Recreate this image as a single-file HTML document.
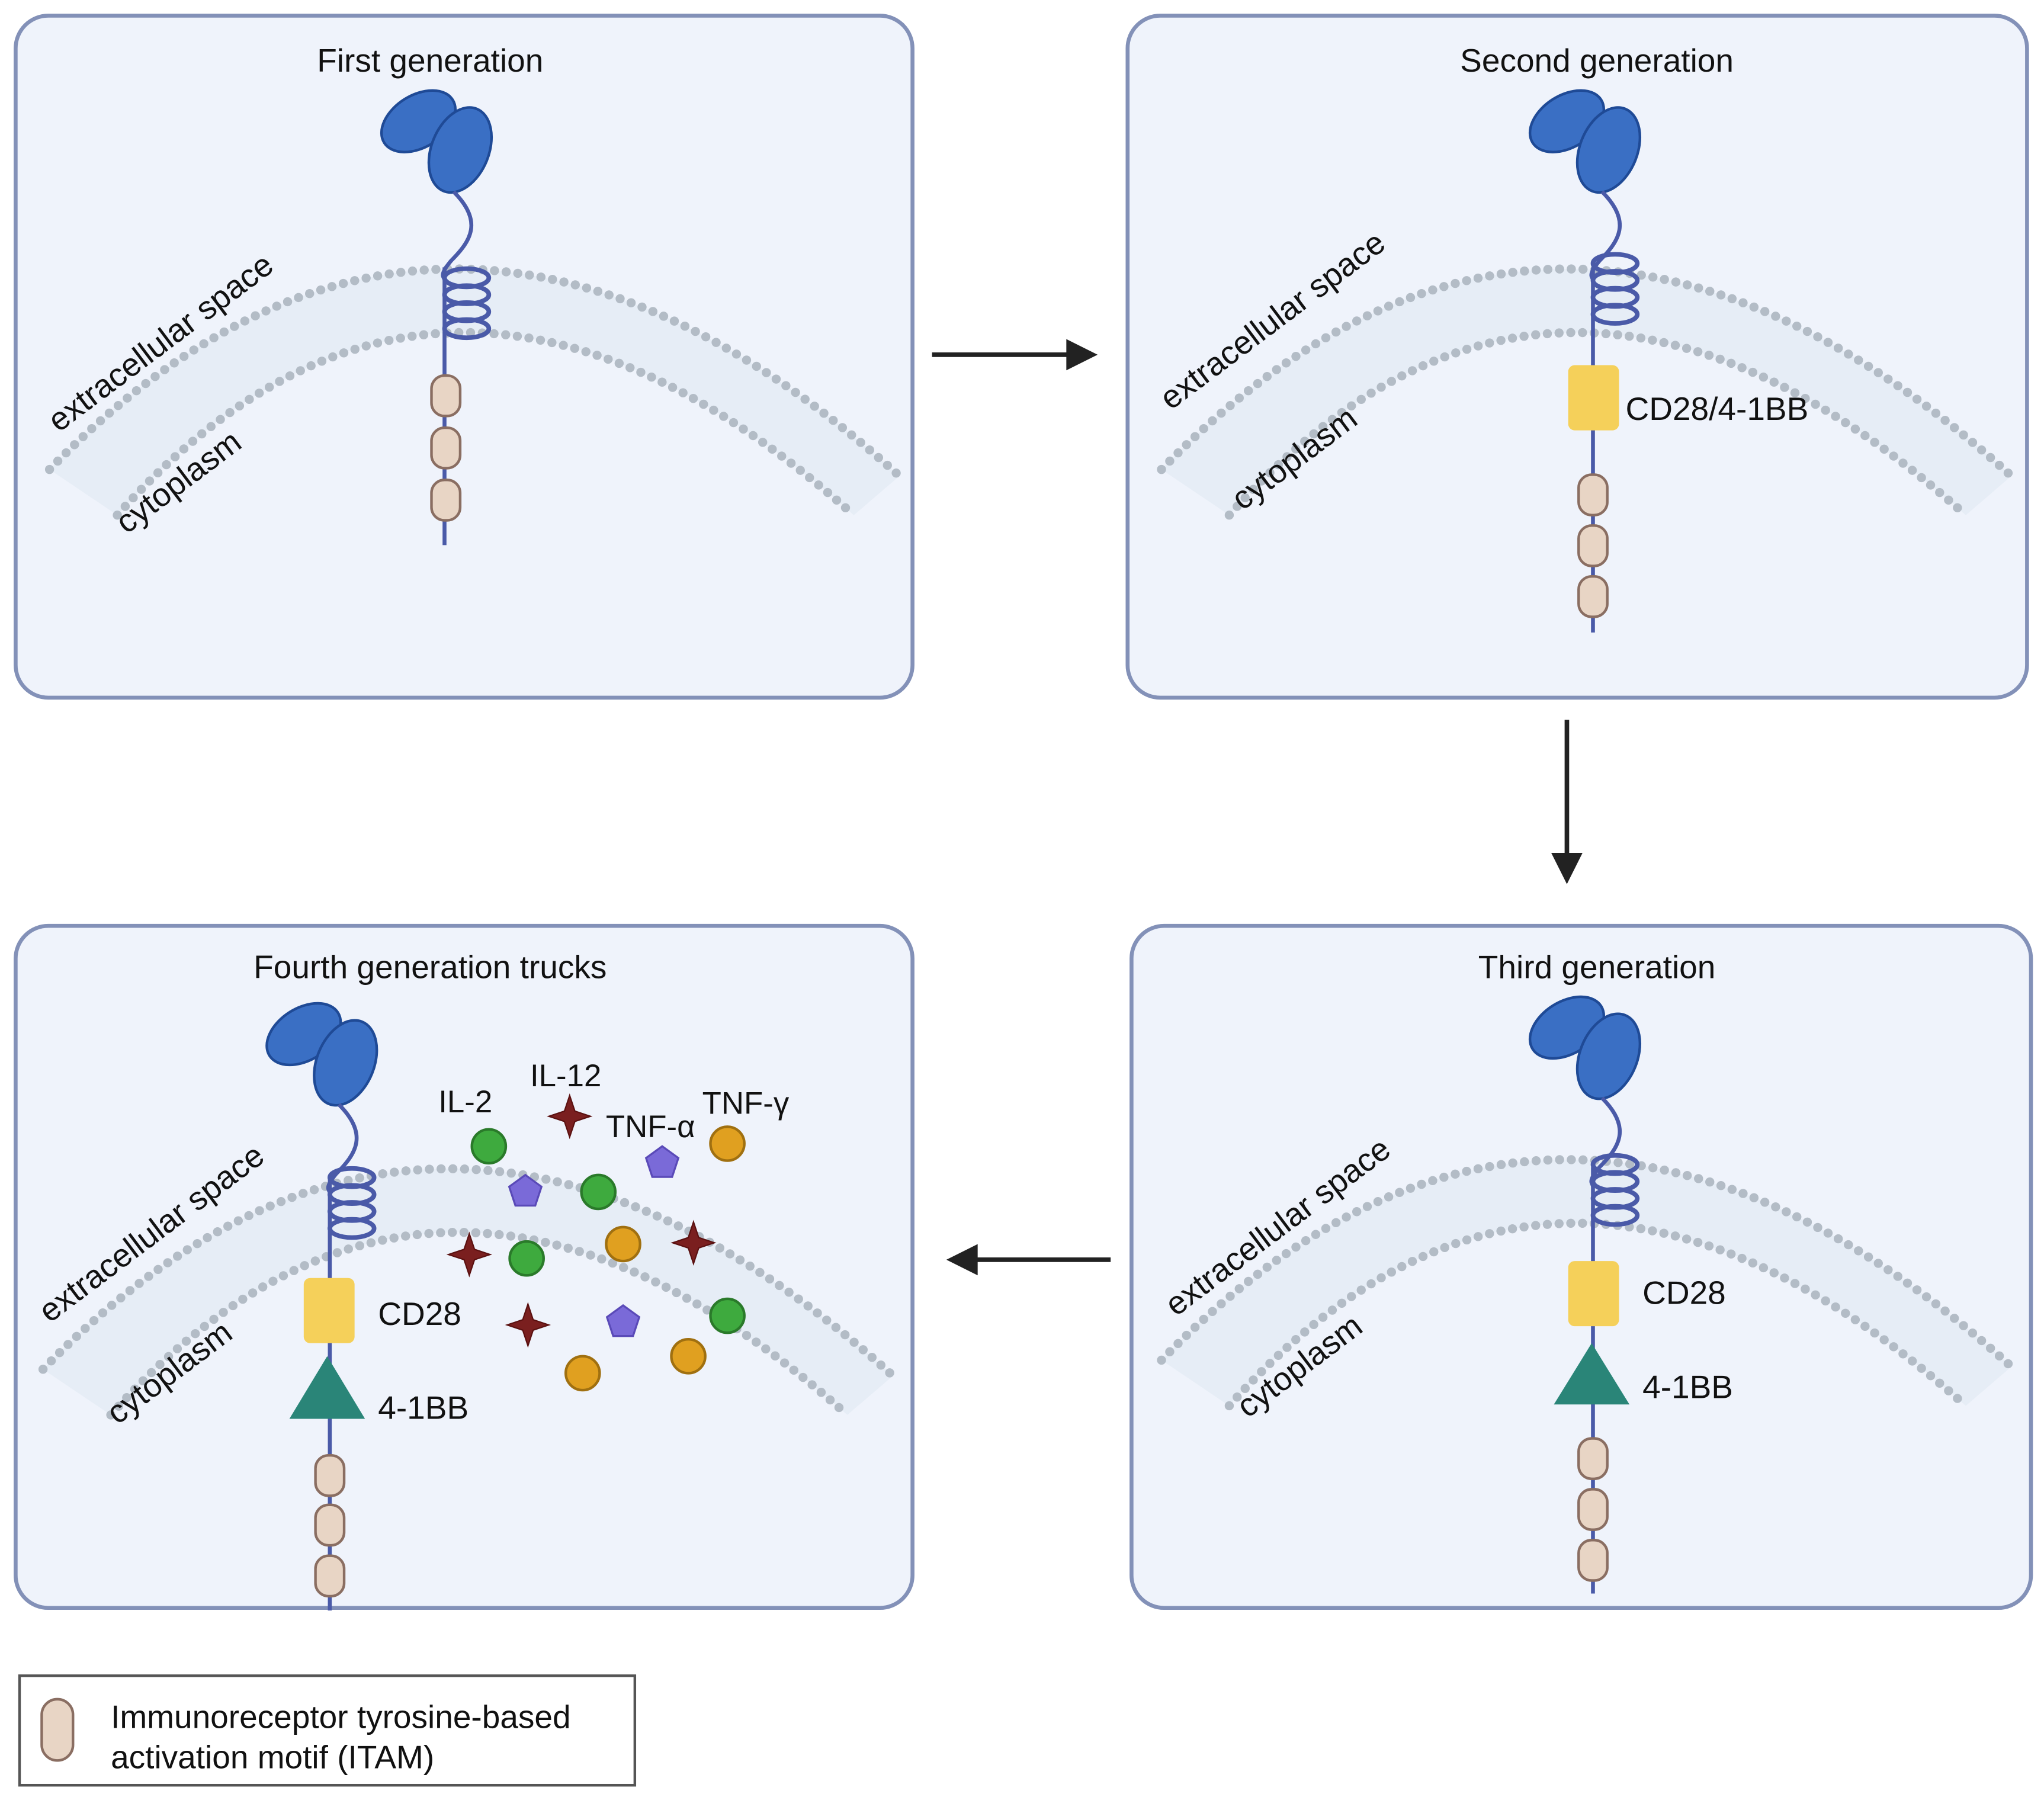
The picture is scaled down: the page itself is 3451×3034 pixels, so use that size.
<!DOCTYPE html>
<html><head><meta charset="utf-8"><style>
html,body{margin:0;padding:0;background:#fff;}
svg{display:block;}
text{font-family:"Liberation Sans",sans-serif;fill:#111;}
</style></head><body>
<svg width="3451" height="3034" viewBox="0 0 1568 1378" preserveAspectRatio="none" xmlns="http://www.w3.org/2000/svg">
<defs>
<g id="mem">
  <path d="M38 360 Q 340 50 690 365 L655 395 Q 340 115 90 395 Z" fill="#e3eaf3" opacity="0.7"/>
  <path d="M38 360 Q 340 50 690 365" fill="none" stroke="#b3bcc6" stroke-width="7" stroke-dasharray="0 9" stroke-linecap="round"/>
  <path d="M90 395 Q 340 115 655 395" fill="none" stroke="#b3bcc6" stroke-width="7" stroke-dasharray="0 9" stroke-linecap="round"/>
</g>
<g id="ab">
  <ellipse cx="-20" cy="-22" rx="31" ry="20" transform="rotate(-32 -20 -22)" fill="#3a6fc4" stroke="#1f4a96" stroke-width="2"/>
  <ellipse cx="12" cy="0" rx="22" ry="34" transform="rotate(22 12 0)" fill="#3a6fc4" stroke="#1f4a96" stroke-width="2"/>
  <path d="M7 32 C 30 55, 20 70, 5 85 C -5 97, 0 97, 0 100" fill="none" stroke="#4a5aa8" stroke-width="3"/>
</g>
<g id="coil" fill="none" stroke="#4a5aa8" stroke-width="3.5">
  <ellipse cx="17" cy="0" rx="17" ry="7"/><ellipse cx="17" cy="13" rx="17" ry="7"/><ellipse cx="17" cy="26" rx="17" ry="7"/><ellipse cx="17" cy="39" rx="17" ry="7"/>
</g>
<rect id="itam" x="-11" y="0" width="22" height="31" rx="10" fill="#e8d5c5" stroke="#8a6e62" stroke-width="2"/>
<circle id="gc" r="13" fill="#3eaa3e" stroke="#2a7a2a" stroke-width="2"/>
<circle id="oc" r="13" fill="#e0a020" stroke="#a07010" stroke-width="2"/>
<polygon id="pp" points="0,-13 12.4,-4 7.6,10.5 -7.6,10.5 -12.4,-4" fill="#7a6ad8" stroke="#5a4ab8" stroke-width="1.5"/>
<polygon id="st" points="0,-16 4,-4 16,0 4,4 0,16 -4,4 -16,0 -4,-4" fill="#7a1f1f" stroke="#5a1010" stroke-width="1"/>
</defs>

<rect x="12" y="12" width="688" height="523" rx="25" fill="#eff3fb" stroke="#8391b8" stroke-width="3"/>
<rect x="865" y="12" width="690" height="523" rx="25" fill="#eff3fb" stroke="#8391b8" stroke-width="3"/>
<rect x="868" y="710" width="690" height="523" rx="25" fill="#eff3fb" stroke="#8391b8" stroke-width="3"/>
<rect x="12" y="710" width="688" height="523" rx="25" fill="#eff3fb" stroke="#8391b8" stroke-width="3"/>

<!-- Panel 1 -->
<use href="#mem"/>
<text x="330" y="55" font-size="25" text-anchor="middle">First generation</text>
<text x="0" y="0" font-size="25" transform="translate(45 332) rotate(-37)">extracellular space</text>
<text x="0" y="0" font-size="25" transform="translate(97 410) rotate(-37)">cytoplasm</text>
<line x1="341" y1="205" x2="341" y2="418" stroke="#4a5aa8" stroke-width="3"/>
<use href="#ab" transform="translate(341 115)"/>
<use href="#coil" transform="translate(341 213)"/>
<use href="#itam" transform="translate(342 288)"/>
<use href="#itam" transform="translate(342 328)"/>
<use href="#itam" transform="translate(342 368)"/>

<!-- Panel 2 -->
<use href="#mem" transform="translate(853 0)"/>
<text x="1225" y="55" font-size="25" text-anchor="middle">Second generation</text>
<text x="0" y="0" font-size="25" transform="translate(898 315) rotate(-37)">extracellular space</text>
<text x="0" y="0" font-size="25" transform="translate(953 392) rotate(-37)">cytoplasm</text>
<line x1="1222" y1="205" x2="1222" y2="485" stroke="#4a5aa8" stroke-width="3"/>
<use href="#ab" transform="translate(1222 115)"/>
<use href="#coil" transform="translate(1222 202)"/>
<rect x="1203" y="280" width="39" height="50" rx="5" fill="#f5d05a"/>
<text x="1247" y="322" font-size="25">CD28/4-1BB</text>
<use href="#itam" transform="translate(1222 364)"/>
<use href="#itam" transform="translate(1222 403)"/>
<use href="#itam" transform="translate(1222 442)"/>

<!-- Panel 3 -->
<use href="#mem" transform="translate(853 683)"/>
<text x="1225" y="750" font-size="25" text-anchor="middle">Third generation</text>
<text x="0" y="0" font-size="25" transform="translate(902 1010) rotate(-37)">extracellular space</text>
<text x="0" y="0" font-size="25" transform="translate(957 1088) rotate(-37)">cytoplasm</text>
<line x1="1222" y1="895" x2="1222" y2="1222" stroke="#4a5aa8" stroke-width="3"/>
<use href="#ab" transform="translate(1222 810)"/>
<use href="#coil" transform="translate(1222 893)"/>
<rect x="1203" y="967" width="39" height="50" rx="5" fill="#f5d05a"/>
<text x="1260" y="1000" font-size="25">CD28</text>
<polygon points="1221,1030 1250,1077 1192,1077" fill="#2a8578"/>
<text x="1260" y="1072" font-size="25">4-1BB</text>
<use href="#itam" transform="translate(1222 1103)"/>
<use href="#itam" transform="translate(1222 1142)"/>
<use href="#itam" transform="translate(1222 1181)"/>

<!-- Panel 4 -->
<g transform="translate(-5 690)"><use href="#mem"/></g>
<text x="330" y="750" font-size="25" text-anchor="middle">Fourth generation trucks</text>
<text x="0" y="0" font-size="25" transform="translate(38 1015) rotate(-37)">extracellular space</text>
<text x="0" y="0" font-size="25" transform="translate(90 1093) rotate(-37)">cytoplasm</text>
<line x1="253" y1="905" x2="253" y2="1235" stroke="#4a5aa8" stroke-width="3"/>
<use href="#ab" transform="translate(253 815)"/>
<use href="#coil" transform="translate(253 903)"/>
<rect x="233" y="980" width="39" height="50" rx="5" fill="#f5d05a"/>
<text x="290" y="1016" font-size="25">CD28</text>
<polygon points="251,1040 280,1088 222,1088" fill="#2a8578"/>
<text x="290" y="1088" font-size="25">4-1BB</text>
<use href="#itam" transform="translate(253 1116)"/>
<use href="#itam" transform="translate(253 1154)"/>
<use href="#itam" transform="translate(253 1193)"/>

<use href="#gc" x="375" y="879"/><use href="#gc" x="459" y="914"/><use href="#gc" x="404" y="965"/><use href="#gc" x="558" y="1009"/>
<use href="#oc" x="558" y="877"/><use href="#oc" x="478" y="954"/><use href="#oc" x="528" y="1040"/><use href="#oc" x="447" y="1053"/>
<use href="#pp" x="403" y="914"/><use href="#pp" x="508" y="892"/><use href="#pp" x="478" y="1014"/>
<use href="#st" x="437" y="856"/><use href="#st" x="360" y="962"/><use href="#st" x="532" y="953"/><use href="#st" x="405" y="1016"/>
<text x="357" y="853" font-size="24" text-anchor="middle">IL-2</text>
<text x="434" y="833" font-size="24" text-anchor="middle">IL-12</text>
<text x="499" y="872" font-size="24" text-anchor="middle">TNF-α</text>
<text x="572" y="854" font-size="24" text-anchor="middle">TNF-γ</text>

<line x1="715" y1="272" x2="822" y2="272" stroke="#222" stroke-width="3.5"/>
<path d="M818 260 L842 272 L818 284 Z" fill="#222"/>
<line x1="1202" y1="552" x2="1202" y2="660" stroke="#222" stroke-width="3.5"/>
<path d="M1190 654 L1202 678 L1214 654 Z" fill="#222"/>
<line x1="852" y1="966" x2="745" y2="966" stroke="#222" stroke-width="3.5"/>
<path d="M750 954 L726 966 L750 978 Z" fill="#222"/>

<rect x="15" y="1285" width="472" height="84" fill="#fff" stroke="#555" stroke-width="2"/>
<rect x="32" y="1303" width="24" height="47" rx="12" fill="#e8d5c5" stroke="#8a6e62" stroke-width="2"/>
<text x="85" y="1325" font-size="25">Immunoreceptor tyrosine-based</text>
<text x="85" y="1356" font-size="25">activation motif (ITAM)</text>
</svg>
</body></html>
